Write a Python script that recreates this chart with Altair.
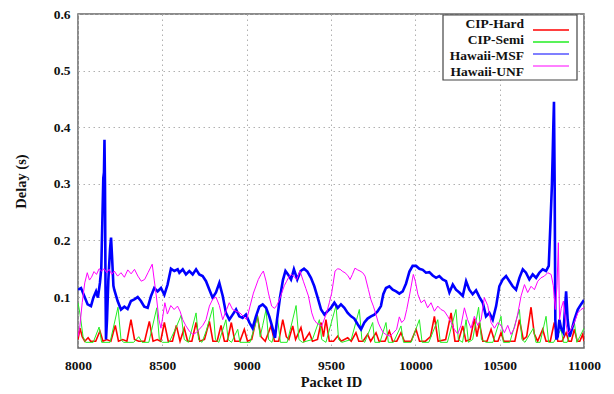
import altair as alt
import pandas as pd

series_names = ["CIP-Hard", "CIP-Semi", "Hawaii-MSF", "Hawaii-UNF"]
series_colors = ["#ff0000", "#22ee22", "#0000ff", "#ff00ff"]
series_widths = [1.6, 1.0, 2.6, 1.0]
x_ticks = [8000, 8500, 9000, 9500, 10000, 10500, 11000]
y_ticks = [0.1, 0.2, 0.3, 0.4, 0.5, 0.6]

hard_x = [8000, 8012, 8025, 8040, 8060, 8075, 8105, 8130, 8148, 8170, 8195, 8221, 8240, 8265, 8290,
          8314, 8335, 8360, 8395, 8423, 8445, 8470, 8490, 8512, 8535, 8560, 8583, 8605, 8630, 8650,
          8675, 8700, 8722, 8750, 8779, 8800, 8825, 8848, 8868, 8885, 8909, 8930, 8960, 8986, 9005,
          9030, 9062, 9085, 9110, 9144, 9165, 9190, 9214, 9235, 9250, 9273, 9290, 9322, 9340, 9372,
          9390, 9420, 9441, 9455, 9470, 9490, 9515, 9540, 9560, 9599, 9620, 9648, 9665, 9690, 9717,
          9735, 9767, 9785, 9820, 9846, 9865, 9890, 9915, 9935, 9975, 10004, 10025, 10060, 10090, 10113,
          10135, 10180, 10212, 10235, 10255, 10281, 10300, 10325, 10350, 10365, 10380, 10400, 10425, 10449, 10470,
          10490, 10508, 10525, 10590, 10617, 10640, 10660, 10686, 10705, 10725, 10755, 10775, 10800, 10824, 10845,
          10870, 10894, 10910, 10925, 10943, 10960, 10975, 10992, 11000]
hard_y = [0.025, 0.045, 0.030, 0.022, 0.028, 0.022, 0.022, 0.040, 0.022, 0.025, 0.022, 0.050, 0.022, 0.025, 0.022,
          0.060, 0.025, 0.022, 0.022, 0.057, 0.022, 0.025, 0.022, 0.055, 0.022, 0.022, 0.050, 0.022, 0.045, 0.022,
          0.022, 0.055, 0.022, 0.025, 0.057, 0.022, 0.022, 0.050, 0.022, 0.022, 0.055, 0.022, 0.022, 0.043, 0.022,
          0.025, 0.068, 0.030, 0.022, 0.049, 0.022, 0.022, 0.060, 0.030, 0.025, 0.049, 0.025, 0.046, 0.022, 0.037,
          0.022, 0.025, 0.055, 0.030, 0.060, 0.022, 0.022, 0.031, 0.022, 0.028, 0.022, 0.037, 0.022, 0.022, 0.034,
          0.022, 0.037, 0.022, 0.022, 0.040, 0.022, 0.022, 0.037, 0.022, 0.022, 0.043, 0.022, 0.022, 0.030, 0.066,
          0.022, 0.025, 0.072, 0.022, 0.022, 0.049, 0.022, 0.025, 0.062, 0.030, 0.055, 0.022, 0.022, 0.043, 0.022,
          0.022, 0.037, 0.022, 0.022, 0.060, 0.025, 0.030, 0.082, 0.035, 0.022, 0.043, 0.022, 0.022, 0.055, 0.022,
          0.022, 0.037, 0.022, 0.022, 0.043, 0.022, 0.022, 0.034, 0.022]

semi_x = [8000, 8012, 8030, 8045, 8090, 8125, 8140, 8190, 8237, 8255, 8270, 8330, 8360, 8380, 8420,
          8467, 8482, 8500, 8540, 8580, 8612, 8630, 8655, 8700, 8715, 8735, 8760, 8800, 8815, 8835,
          8877, 8890, 8910, 8947, 8960, 9020, 9065, 9080, 9095, 9115, 9130, 9150, 9184, 9200, 9240,
          9293, 9310, 9330, 9390, 9431, 9445, 9470, 9530, 9545, 9565, 9620, 9668, 9683, 9700, 9747,
          9760, 9790, 9826, 9840, 9870, 9915, 9930, 9975, 10024, 10040, 10080, 10133, 10148, 10190, 10241,
          10255, 10280, 10301, 10315, 10340, 10375, 10392, 10420, 10460, 10508, 10522, 10560, 10617, 10632, 10650,
          10700, 10715, 10740, 10775, 10790, 10820, 10864, 10878, 10900, 10943, 10958, 10975, 11000]
semi_y = [0.090, 0.070, 0.030, 0.020, 0.020, 0.047, 0.020, 0.020, 0.082, 0.025, 0.020, 0.020, 0.030, 0.020, 0.020,
          0.081, 0.025, 0.020, 0.020, 0.045, 0.068, 0.025, 0.020, 0.072, 0.025, 0.020, 0.040, 0.082, 0.025, 0.020,
          0.060, 0.025, 0.020, 0.043, 0.020, 0.020, 0.066, 0.030, 0.050, 0.078, 0.025, 0.020, 0.060, 0.020, 0.020,
          0.085, 0.025, 0.020, 0.025, 0.060, 0.025, 0.020, 0.085, 0.025, 0.020, 0.025, 0.078, 0.025, 0.020, 0.055,
          0.020, 0.020, 0.055, 0.020, 0.020, 0.049, 0.020, 0.020, 0.060, 0.020, 0.020, 0.060, 0.020, 0.020, 0.078,
          0.025, 0.020, 0.060, 0.020, 0.025, 0.082, 0.025, 0.020, 0.020, 0.066, 0.020, 0.020, 0.078, 0.025, 0.020,
          0.045, 0.020, 0.020, 0.066, 0.020, 0.020, 0.043, 0.020, 0.020, 0.055, 0.020, 0.030, 0.045]

msf_x = [8000, 8018, 8037, 8057, 8077, 8091, 8107, 8118, 8130, 8138, 8144, 8150, 8154, 8157, 8160,
         8163, 8166, 8172, 8180, 8190, 8196, 8202, 8210, 8215, 8235, 8255, 8275, 8294, 8314, 8334,
         8354, 8373, 8393, 8413, 8433, 8452, 8472, 8492, 8512, 8531, 8551, 8571, 8591, 8601, 8621,
         8640, 8660, 8680, 8700, 8719, 8739, 8759, 8779, 8798, 8818, 8838, 8858, 8877, 8897, 8917,
         8937, 8956, 8976, 8996, 9016, 9035, 9055, 9075, 9095, 9115, 9134, 9150, 9168, 9180, 9198,
         9215, 9230, 9245, 9263, 9280, 9300, 9320, 9340, 9360, 9381, 9401, 9421, 9441, 9461, 9480,
         9500, 9520, 9540, 9559, 9579, 9599, 9619, 9638, 9658, 9678, 9698, 9717, 9737, 9757, 9777,
         9796, 9810, 9826, 9846, 9866, 9886, 9905, 9925, 9945, 9965, 9984, 10004, 10024, 10044, 10063,
         10083, 10103, 10123, 10142, 10162, 10182, 10202, 10222, 10241, 10261, 10281, 10301, 10320, 10340, 10360,
         10380, 10400, 10419, 10439, 10459, 10479, 10498, 10518, 10538, 10558, 10577, 10597, 10617, 10637, 10656,
         10676, 10696, 10716, 10735, 10755, 10775, 10791, 10802, 10810, 10814, 10818, 10822, 10826, 10830, 10836,
         10844, 10854, 10864, 10878, 10894, 10903, 10915, 10930, 10943, 10963, 10982, 11000]
msf_y = [0.113, 0.116, 0.102, 0.087, 0.084, 0.099, 0.110, 0.099, 0.125, 0.150, 0.230, 0.310, 0.320, 0.378, 0.300,
         0.120, 0.025, 0.060, 0.130, 0.185, 0.205, 0.170, 0.120, 0.113, 0.093, 0.078, 0.083, 0.079, 0.093, 0.096,
         0.100, 0.093, 0.083, 0.081, 0.102, 0.116, 0.110, 0.116, 0.104, 0.122, 0.150, 0.146, 0.149, 0.143, 0.149,
         0.140, 0.146, 0.140, 0.149, 0.140, 0.137, 0.128, 0.113, 0.099, 0.108, 0.125, 0.102, 0.072, 0.060, 0.069,
         0.078, 0.066, 0.063, 0.069, 0.055, 0.045, 0.066, 0.083, 0.087, 0.081, 0.066, 0.049, 0.028, 0.060, 0.100,
         0.130, 0.146, 0.140, 0.131, 0.149, 0.131, 0.146, 0.150, 0.145, 0.134, 0.119, 0.099, 0.078, 0.069, 0.075,
         0.081, 0.090, 0.081, 0.087, 0.081, 0.072, 0.066, 0.062, 0.052, 0.043, 0.055, 0.062, 0.066, 0.069, 0.075,
         0.084, 0.105, 0.116, 0.119, 0.113, 0.110, 0.106, 0.110, 0.124, 0.145, 0.155, 0.155, 0.150, 0.148, 0.143,
         0.144, 0.138, 0.134, 0.137, 0.131, 0.128, 0.108, 0.122, 0.113, 0.108, 0.102, 0.128, 0.113, 0.105, 0.112,
         0.100, 0.090, 0.066, 0.072, 0.060, 0.084, 0.119, 0.131, 0.137, 0.128, 0.119, 0.113, 0.134, 0.149, 0.143,
         0.131, 0.140, 0.134, 0.143, 0.149, 0.146, 0.155, 0.237, 0.300, 0.348, 0.400, 0.445, 0.300, 0.060, 0.025,
         0.030, 0.060, 0.045, 0.037, 0.110, 0.060, 0.030, 0.045, 0.060, 0.078, 0.087, 0.095]

unf_x = [8000, 8010, 8025, 8040, 8055, 8068, 8080, 8095, 8110, 8125, 8140, 8155, 8170, 8185, 8200,
         8215, 8235, 8255, 8275, 8295, 8315, 8335, 8355, 8375, 8395, 8415, 8440, 8452, 8465, 8480,
         8492, 8505, 8515, 8530, 8550, 8570, 8590, 8605, 8621, 8640, 8660, 8680, 8700, 8719, 8740,
         8759, 8779, 8798, 8818, 8838, 8858, 8877, 8897, 8917, 8937, 8960, 8980, 9000, 9020, 9040,
         9069, 9085, 9099, 9115, 9129, 9148, 9165, 9178, 9194, 9208, 9223, 9237, 9253, 9267, 9283,
         9297, 9316, 9336, 9351, 9366, 9386, 9400, 9415, 9445, 9474, 9490, 9504, 9524, 9540, 9554,
         9570, 9583, 9600, 9613, 9627, 9642, 9658, 9672, 9688, 9702, 9722, 9737, 9751, 9766, 9781,
         9795, 9810, 9830, 9850, 9870, 9889, 9905, 9919, 9935, 9949, 9968, 9988, 10000, 10015, 10034,
         10054, 10073, 10093, 10113, 10133, 10152, 10172, 10192, 10212, 10231, 10251, 10271, 10291, 10310, 10330,
         10350, 10370, 10390, 10409, 10429, 10449, 10469, 10489, 10508, 10528, 10548, 10567, 10587, 10607, 10627,
         10647, 10666, 10686, 10706, 10726, 10745, 10765, 10785, 10805, 10818, 10830, 10840, 10848, 10855, 10865,
         10878, 10890, 10903, 10923, 10943, 10963, 10982, 11000]
unf_y = [0.030, 0.045, 0.090, 0.125, 0.143, 0.130, 0.135, 0.145, 0.140, 0.150, 0.146, 0.150, 0.143, 0.149, 0.140,
         0.146, 0.137, 0.143, 0.135, 0.148, 0.141, 0.149, 0.137, 0.128, 0.131, 0.143, 0.158, 0.130, 0.100, 0.060,
         0.045, 0.070, 0.090, 0.070, 0.085, 0.078, 0.084, 0.075, 0.060, 0.049, 0.040, 0.034, 0.037, 0.043, 0.050,
         0.060, 0.084, 0.096, 0.100, 0.085, 0.060, 0.075, 0.090, 0.078, 0.075, 0.072, 0.066, 0.060, 0.084, 0.107,
         0.131, 0.140, 0.146, 0.128, 0.107, 0.084, 0.080, 0.085, 0.095, 0.107, 0.120, 0.128, 0.137, 0.140, 0.135,
         0.131, 0.146, 0.128, 0.115, 0.102, 0.072, 0.060, 0.054, 0.049, 0.072, 0.090, 0.107, 0.146, 0.150, 0.149,
         0.145, 0.143, 0.138, 0.131, 0.140, 0.151, 0.148, 0.146, 0.143, 0.137, 0.113, 0.095, 0.084, 0.070, 0.054,
         0.045, 0.037, 0.033, 0.031, 0.037, 0.043, 0.065, 0.055, 0.060, 0.078, 0.107, 0.140, 0.128, 0.105, 0.090,
         0.095, 0.081, 0.090, 0.075, 0.084, 0.078, 0.075, 0.066, 0.055, 0.043, 0.035, 0.050, 0.081, 0.060, 0.045,
         0.066, 0.050, 0.060, 0.099, 0.085, 0.055, 0.045, 0.055, 0.050, 0.037, 0.050, 0.034, 0.045, 0.070, 0.102,
         0.122, 0.108, 0.119, 0.113, 0.128, 0.134, 0.137, 0.143, 0.140, 0.120, 0.078, 0.120, 0.196, 0.060, 0.080,
         0.093, 0.060, 0.035, 0.043, 0.055, 0.072, 0.078, 0.081]

frames = []
for name, xs, ys in [
    (series_names[0], hard_x, hard_y),
    (series_names[1], semi_x, semi_y),
    (series_names[2], msf_x, msf_y),
    (series_names[3], unf_x, unf_y),
]:
    frames.append(pd.DataFrame({"packet": xs, "delay": ys, "series": name}))
df = pd.concat(frames, ignore_index=True)

FONT = "Liberation Serif"

x_enc = alt.X(
    "packet:Q",
    scale=alt.Scale(domain=[8000, 11000], nice=False, zero=False),
    axis=alt.Axis(values=x_ticks, format="d", title="Packet ID", titlePadding=4,
                  labelFlush=False, labelPadding=10),
)
y_enc = alt.Y(
    "delay:Q",
    scale=alt.Scale(domain=[0.01, 0.6], nice=False, zero=False),
    axis=alt.Axis(values=y_ticks, format=".1f", title="Delay (s)", titlePadding=25,
                  labelFlush=False, labelPadding=8),
)
color_enc = alt.Color(
    "series:N",
    scale=alt.Scale(domain=series_names, range=series_colors),
    legend=None,
)

line_layers = []
for name, w in zip(series_names, series_widths):
    line_layers.append(
        alt.Chart(df)
        .transform_filter(alt.datum.series == name)
        .mark_line(strokeWidth=w, clip=True)
        .encode(x=x_enc, y=y_enc, color=color_enc, order="packet:Q")
    )
lines = alt.layer(*line_layers)

legend_df = pd.DataFrame({"series": series_names, "row": [0, 1, 2, 3]})
row_y = alt.Y("row:O", scale=alt.Scale(range=[10, 58], padding=0), axis=None)

box = (
    alt.Chart(pd.DataFrame({"k": [0]}))
    .mark_rect(fill="white", stroke="#444", strokeWidth=1.2)
    .encode(x=alt.value(365), x2=alt.value(499), y=alt.value(1), y2=alt.value(66))
)
legend_text = (
    alt.Chart(legend_df)
    .mark_text(align="right", baseline="middle", font=FONT, fontSize=13.5,
               fontWeight="bold", color="#111")
    .encode(x=alt.value(446), y=row_y, text="series:N")
)
legend_rules = (
    alt.Chart(legend_df)
    .mark_rule()
    .encode(
        x=alt.value(455),
        x2=alt.value(491),
        y=row_y,
        color=color_enc,
        strokeWidth=alt.StrokeWidth(
            "series:N", scale=alt.Scale(domain=series_names, range=series_widths), legend=None
        ),
    )
)

chart = (
    alt.layer(lines, box, legend_text, legend_rules)
    .resolve_scale(y="independent")
    .properties(
        width=506,
        height=334,
        autosize=alt.AutoSizeParams(type="none"),
        padding={"left": 70, "top": 6, "right": 22, "bottom": 44},
        background="white",
    )
    .configure_view(stroke="#666", strokeWidth=1.5)
    .configure_axis(
        labelFont=FONT,
        titleFont=FONT,
        labelFontSize=13.5,
        titleFontSize=14.5,
        labelFontWeight="bold",
        titleFontWeight="bold",
        labelColor="#111",
        titleColor="#111",
        grid=True,
        gridColor="#b0b0b0",
        gridDash=[1.5, 3.5],
        gridWidth=1,
        domain=False,
        ticks=False,
    )
)

chart.save("out.html", embed_options={"renderer": "svg", "actions": False})
